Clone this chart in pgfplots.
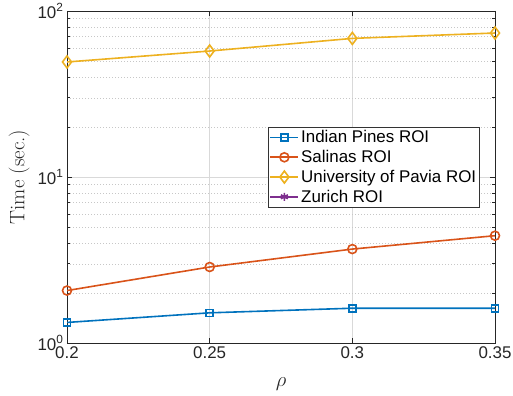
\documentclass[border=0pt]{standalone}
\usepackage{fontspec}
\newfontfamily\arial{Liberation Sans}
\usepackage{pgfplots}
\pgfplotsset{compat=1.18}
\definecolor{mblue}{RGB}{0,114,189}
\definecolor{morange}{RGB}{217,83,25}
\definecolor{myellow}{RGB}{237,177,32}
\definecolor{mpurple}{RGB}{126,47,142}
\begin{document}
\begin{tikzpicture}
\begin{axis}[
  scale only axis, width=428bp, height=332bp,
  ymode=log,
  xmin=0.2, xmax=0.35, ymin=1, ymax=100,
  xtick={0.2,0.25,0.3,0.35}, xticklabels={0.2,0.25,0.3,0.35},
  ytick={1,10,100}, yticklabels={10\textsuperscript{0},10\textsuperscript{1},10\textsuperscript{2}},
  tick align=inside, tick pos=both,
  xmajorgrids, ymajorgrids, yminorgrids,
  major grid style={color=black!15, line width=0.6bp},
  minor grid style={color=black!22, line width=0.5bp, dash pattern=on 0.8bp off 2.2bp},
  axis line style={black!85, line width=0.7bp},
  every tick/.style={black!85, line width=0.6bp},
  major tick length=5bp, minor tick length=3bp,
  ticklabel style={font=\fontsize{17}{20}\arial, text=black!85},
  xlabel={$\rho$}, ylabel={Time (sec.)},
  label style={font=\fontsize{21}{24}\selectfont, text=black!85},
  xlabel style={at={(axis description cs:0.5,-0.124)}, anchor=center},
  ylabel style={at={(axis description cs:-0.112,0.5)}, anchor=center},
  legend style={at={(axis description cs:0.965,0.651)}, anchor=north east,
    font=\fontsize{17}{20}\arial, draw=black!80, line width=0.6bp,
    inner sep=1.5bp, row sep=2bp},
  legend cell align=left,
  legend image code/.code={\draw[mark repeat=2,mark phase=2,#1] plot coordinates {(0bp,0bp) (14bp,0bp) (28bp,0bp)};},
]
\addplot[color=mblue, line width=1.6bp, mark=square, mark size=3.5bp, mark options={solid}]
  coordinates {(0.2,1.33) (0.25,1.52) (0.3,1.62) (0.35,1.62)};
\addlegendentry{Indian Pines ROI}
\addplot[color=morange, line width=1.6bp, mark=o, mark size=4.5bp]
  coordinates {(0.2,2.07) (0.25,2.87) (0.3,3.68) (0.35,4.43)};
\addlegendentry{Salinas ROI}
\addplot[color=myellow, line width=1.6bp, mark=diamond, mark size=6bp]
  coordinates {(0.2,49.3) (0.25,57.4) (0.3,68.4) (0.35,73.7)};
\addlegendentry{University of Pavia ROI}
\addlegendimage{color=mpurple, line width=1.6bp, mark=asterisk, mark size=4bp}
\addlegendentry{Zurich ROI}
\end{axis}
\pgfresetboundingbox
\path ([xshift=-67bp,yshift=-53bp]current axis.south west) rectangle ([xshift=18bp,yshift=11bp]current axis.north east);
\end{tikzpicture}
\end{document}
